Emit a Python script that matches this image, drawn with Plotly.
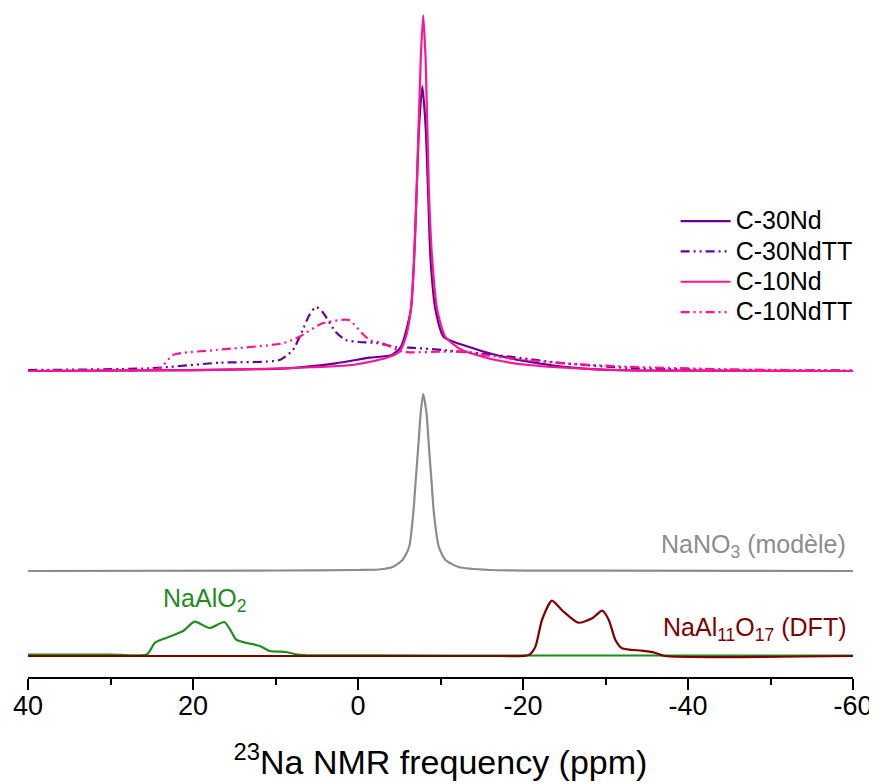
import plotly.graph_objects as go

# ---------------- data (ppm, intensity in arbitrary units) ----------------
c30_x = [40, 20, 8.7, 2.7, -1.4, -4.1, -5.2, -6.4, -7.1, -7.4, -7.8, -8.2, -8.5, -8.8, -9.4, -10.4, -13.4, -16.7, -20.7, -24.7, -30.8, -40.9, -60]
c30_y = [0, 0.8, 2.7, 7.7, 13.3, 16, 24.3, 61, 178, 244, 285, 244, 178, 111, 61, 34, 24.3, 16, 9.3, 4.3, 1, 0.3, 0]

c30tt_x = [40, 25.2, 16.8, 9.5, 7.9, 6.7, 5.9, 5.1, 4.3, 2.7, 1.5, -0.1, -2.2, -4.6, -7.0, -10.2, -16.7, -24.7, -32.8, -44.9, -60]
c30tt_y = [1, 2.7, 8.3, 11, 21, 41, 56, 64, 59, 39, 31, 29, 28, 24, 23, 21, 16, 8, 3, 1, 0.5]

c10_x = [40, 20, 8.7, 0.7, -3.4, -5.0, -5.8, -6.4, -6.8, -7.1, -7.6, -7.9, -8.2, -8.6, -9.0, -9.6, -10.6, -12.6, -16.7, -20.7, -28.8, -36.8, -60]
c10_y = [0, 0.8, 2.7, 6, 13, 19.3, 34, 61, 111, 178, 311, 356, 311, 178, 111, 61, 34, 21, 11, 6, 1.7, 0.3, 0]

c10tt_x = [40, 26.5, 24.0, 22.4, 17.2, 9.1, 7.1, 4.3, 1.1, -0.5, -1.4, -3.0, -5.4, -10.2, -12.6, -16.7, -24.7, -32.8, -44.9, -60]
c10tt_y = [0, 1, 2.7, 16, 21, 27.7, 34.3, 47.7, 51, 37.7, 31, 27.7, 19.3, 19.3, 19.3, 14.3, 7.7, 4.3, 1.7, 0.3]

nano3_x = [40, 10, 0, -2.5, -4.2, -5.4, -6.2, -6.7, -7.0, -7.3, -7.6, -7.9, -8.3, -8.6, -8.9, -9.2, -9.8, -10.6, -12.2, -16, -30, -60]
nano3_y = [0, 0.5, 1, 1.5, 4, 11, 24, 58, 91, 124, 158, 177, 158, 124, 91, 58, 24, 11, 4, 1, 0.3, 0]

naalo2_x = [40, 30, 25.6, 24.6, 23.2, 21.2, 19.8, 18.0, 16.2, 15.4, 14.8, 13.6, 11.9, 10.7, 8.7, 7.5, 6.3, -10, -60]
naalo2_y = [1.5, 1.5, 1.5, 13.3, 18.3, 25, 34.3, 28, 34, 25, 16.7, 13.3, 10, 5, 4, 1.7, 1, 0.5, 0.5]

naal11_x = [40, -17.1, -20.7, -21.5, -22.3, -23.5, -24.7, -26.7, -28.4, -29.6, -30.4, -31.2, -32.0, -34.4, -36.0, -37.2, -60]
naal11_y = [0, 0, 1, 9.3, 36, 55.3, 46, 33.3, 37.7, 45.3, 36, 16, 7.7, 5.3, 3.3, 0, 0]

# vertical offsets of the stacked spectra
off_top = 306
off_nano3 = 106
off_ref = 21

tick_vals = [40, 20, 0, -20, -40, -60]
tick_text = ["40", "20", "0", "-20", "-40", "-60"]

PURPLE = "#660099"
PINK = "#FF1493"
GRAY = "#8C8C8C"
GREEN = "#1E8C1E"
WINE = "#800000"
DASHDOT = "9px,4px,2px,4px,2px,4px"

fig = go.Figure()

def add(x, y, off, color, name, dash="solid", legend=False, width=2.2):
    fig.add_trace(go.Scatter(
        x=x, y=[v + off for v in y], mode="lines",
        name='<span style="font-size:25px">' + name + '</span>',
        line=dict(color=color, width=width, dash=dash, shape="spline", smoothing=0.6),
        showlegend=legend))

add(naalo2_x, naalo2_y, off_ref, GREEN, "NaAlO2")
add(naal11_x, naal11_y, off_ref, WINE, "NaAl11O17")
add(nano3_x, nano3_y, off_nano3, GRAY, "NaNO3")
add(c30_x, c30_y, off_top, PURPLE, "C-30Nd", legend=True)
add(c30tt_x, c30tt_y, off_top, PURPLE, "C-30NdTT", dash=DASHDOT, legend=True)
add(c10_x, c10_y, off_top, PINK, "C-10Nd", legend=True)
add(c10tt_x, c10tt_y, off_top, PINK, "C-10NdTT", dash=DASHDOT, legend=True)

font_family = "Liberation Sans, Arial, sans-serif"

fig.add_annotation(x=-59.4, y=131, xref="x", yref="y", text="NaNO<sub>3</sub> (modèle)",
                   showarrow=False, xanchor="right", yanchor="middle",
                   font=dict(family=font_family, size=25, color=GRAY))
fig.add_annotation(x=18.6, y=77, xref="x", yref="y", text="NaAlO<sub>2</sub>",
                   showarrow=False, xanchor="center", yanchor="middle",
                   font=dict(family=font_family, size=25, color=GREEN))
fig.add_annotation(x=-59.4, y=48, xref="x", yref="y", text="NaAl<sub>11</sub>O<sub>17</sub> (DFT)",
                   showarrow=False, xanchor="right", yanchor="middle",
                   font=dict(family=font_family, size=25, color=WINE))

# The page body adds an 8px offset; figure is sized to fill the rest of the window.
fig.update_layout(
    width=869, height=776,
    margin=dict(l=20, r=24, t=0, b=107),
    paper_bgcolor="white", plot_bgcolor="white",
    font=dict(family=font_family, color="black"),
    legend=dict(x=0.785, y=0.7115, xanchor="left", yanchor="top",
                font=dict(size=21, color="black"), bgcolor="rgba(0,0,0,0)",
                itemwidth=50, tracegroupgap=0),
    xaxis=dict(range=[40, -60], tickvals=tick_vals, ticktext=tick_text,
               automargin=False,
               showline=True, linecolor="black", linewidth=2,
               ticks="outside", ticklen=11, tickwidth=2, tickcolor="black",
               ticklabelstandoff=-7,
               minor=dict(dtick=10, ticks="outside", ticklen=6, tickwidth=2, tickcolor="black"),
               showgrid=False, zeroline=False,
               tickfont=dict(size=27, family=font_family),
               title=dict(text="<sup>23</sup>Na NMR frequency (ppm)",
                          font=dict(size=34, family=font_family), standoff=30)),
    yaxis=dict(range=[0, 669], visible=False, showgrid=False, zeroline=False, automargin=False),
)

fig.write_html("out.html")
